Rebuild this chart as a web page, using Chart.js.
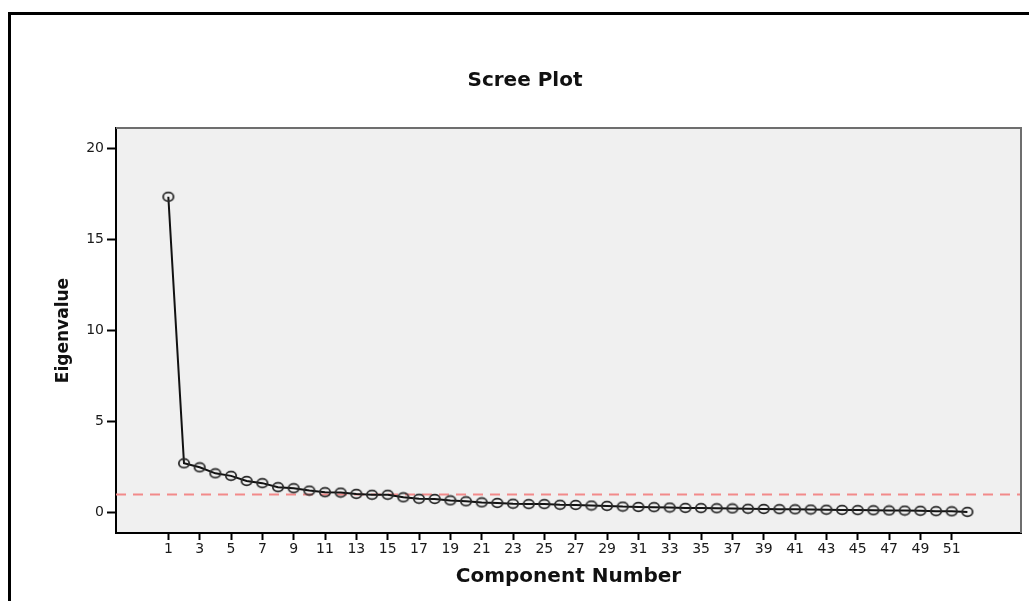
<!DOCTYPE html>
<html>
<head>
<meta charset="utf-8">
<title>Scree Plot</title>
<script src="https://cdn.jsdelivr.net/npm/chart.js@4.4.1/dist/chart.umd.min.js"></script>
<style>
  body { margin: 0; background: #fff; }
  #wrap { position: relative; width: 1029px; height: 601px; overflow: hidden; background: #fff; }
  #frame { position: absolute; left: 8px; top: 12px; right: -10px; bottom: -10px;
           border-left: 3px solid #000; border-top: 3px solid #000; pointer-events: none; }
</style>
</head>
<body>
<div id="wrap">
  <canvas id="scree" width="1029" height="601"></canvas>
  <div id="frame"></div>
</div>
<script>
// component numbers and their eigenvalues
const components = [1, 2, 3, 4, 5, 6, 7, 8, 9, 10, 11, 12, 13, 14, 15, 16, 17, 18, 19, 20,
  21, 22, 23, 24, 25, 26, 27, 28, 29, 30, 31, 32, 33, 34, 35, 36, 37, 38, 39, 40,
  41, 42, 43, 44, 45, 46, 47, 48, 49, 50, 51, 52];
const eigenvalues = [17.36, 2.71, 2.49, 2.16, 2.02, 1.74, 1.62, 1.40, 1.34, 1.21,
  1.12, 1.10, 1.03, 0.98, 0.98, 0.84, 0.76, 0.75, 0.67, 0.62,
  0.56, 0.53, 0.49, 0.47, 0.47, 0.43, 0.42, 0.39, 0.37, 0.33,
  0.31, 0.30, 0.28, 0.26, 0.25, 0.24, 0.23, 0.21, 0.20, 0.19,
  0.18, 0.17, 0.16, 0.15, 0.14, 0.13, 0.12, 0.11, 0.10, 0.08,
  0.07, 0.04];
const xTicks = [1, 3, 5, 7, 9, 11, 13, 15, 17, 19, 21, 23, 25, 27, 29, 31, 33, 35, 37, 39,
  41, 43, 45, 47, 49, 51];
const yTicks = [0, 5, 10, 15, 20];
const kaiserLine = 1;

Chart.defaults.font.family = '"DejaVu Sans", sans-serif';
Chart.defaults.color = '#1a1a1a';

// open, slightly wide ring used as the marker
const ring = document.createElement('canvas');
ring.width = 14;
ring.height = 12;
const rc = ring.getContext('2d');
rc.strokeStyle = '#2a2a2a';
rc.lineWidth = 1.8;
rc.beginPath();
rc.ellipse(7, 6, 5.2, 4.3, 0, 0, Math.PI * 2);
rc.stroke();

const plotFrame = {
  id: 'plotFrame',
  beforeDraw(chart) {
    const { ctx, chartArea: a } = chart;
    ctx.save();
    ctx.fillStyle = '#f0f0f0';
    ctx.fillRect(a.left, a.top, a.right - a.left, a.bottom - a.top);
    ctx.restore();
  },
  beforeDatasetsDraw(chart) {
    const { ctx, chartArea: a } = chart;
    const y = chart.scales.y.getPixelForValue(kaiserLine);
    ctx.save();
    ctx.strokeStyle = '#f28a8a';
    ctx.lineWidth = 2;
    ctx.setLineDash([10, 7]);
    ctx.beginPath();
    ctx.moveTo(a.left, y);
    ctx.lineTo(a.right, y);
    ctx.stroke();
    ctx.restore();
  },
  afterDraw(chart) {
    const { ctx, chartArea: a } = chart;
    ctx.save();
    ctx.strokeStyle = '#6e6e6e';
    ctx.lineWidth = 2;
    ctx.beginPath();
    ctx.moveTo(a.left, a.top);
    ctx.lineTo(a.right, a.top);
    ctx.lineTo(a.right, a.bottom);
    ctx.stroke();
    ctx.fillStyle = '#111';
    ctx.font = 'bold 20px "DejaVu Sans", sans-serif';
    ctx.textAlign = 'center';
    ctx.textBaseline = 'middle';
    ctx.fillText('Scree Plot', 525, 81);
    ctx.restore();
  }
};

new Chart(document.getElementById('scree'), {
  type: 'line',
  data: {
    datasets: [{
      data: components.map((c, i) => ({ x: c, y: eigenvalues[i] })),
      borderColor: '#111',
      borderWidth: 2,
      pointStyle: ring,
      pointRadius: 5,
      tension: 0,
      fill: false
    }]
  },
  options: {
    responsive: false,
    animation: false,
    layout: { padding: { top: 128, left: 0, right: 8, bottom: 0 } },
    plugins: {
      legend: { display: false },
      tooltip: { enabled: false }
    },
    scales: {
      x: {
        type: 'linear',
        min: -2.34,
        max: 55.42,
        afterBuildTicks: s => { s.ticks = xTicks.map(v => ({ value: v })); },
        afterFit: s => { s.height = 68; },
        ticks: { autoSkip: false, maxRotation: 0, padding: 1, color: '#1a1a1a', font: { size: 14 } },
        grid: { drawOnChartArea: false, drawTicks: true, tickLength: 7, tickWidth: 2, tickColor: '#000' },
        border: { display: true, color: '#000', width: 2 },
        title: {
          display: true,
          text: 'Component Number',
          color: '#111',
          font: { size: 20, weight: 'bold' },
          padding: { top: 0, bottom: 12 }
        }
      },
      y: {
        type: 'linear',
        min: -1.12,
        max: 21.14,
        afterBuildTicks: s => { s.ticks = yTicks.map(v => ({ value: v })); },
        afterFit: s => { s.width = 116; },
        ticks: { padding: 3, color: '#1a1a1a', font: { size: 14 } },
        grid: { drawOnChartArea: false, drawTicks: true, tickLength: 9, tickWidth: 2, tickColor: '#000' },
        border: { display: true, color: '#000', width: 2 },
        title: {
          display: true,
          text: 'Eigenvalue',
          color: '#111',
          font: { size: 17, weight: 'bold' },
          padding: { top: 53, bottom: 0 }
        }
      }
    }
  },
  plugins: [plotFrame]
});
</script>
</body>
</html>
